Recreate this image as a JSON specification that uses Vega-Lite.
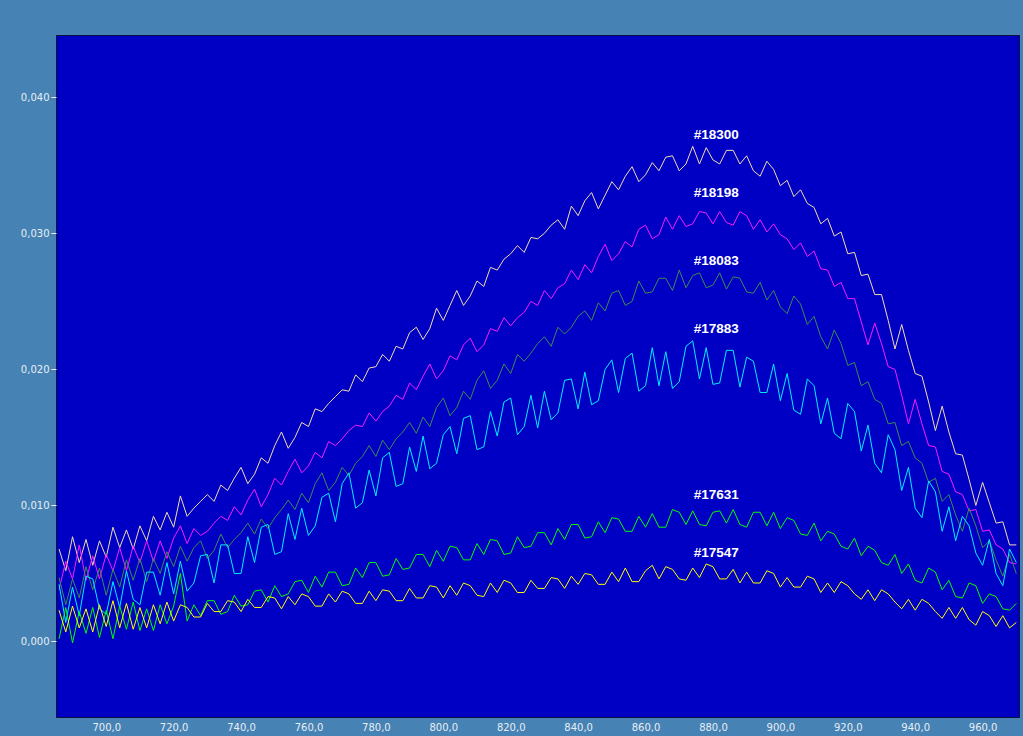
{
  "$schema": "https://vega.github.io/schema/vega-lite/v6.json",
  "width": 963,
  "height": 682,
  "autosize": {"type": "none"},
  "padding": {"left": 56, "top": 35, "right": 4, "bottom": 19},
  "background": "#4682B4",
  "config": {
    "view": {"fill": "#0000C4", "stroke": "#0A1040", "strokeWidth": 1},
    "axis": {"grid": false, "domain": false, "labelColor": "#E6EEF6", "labelFont": "DejaVu Sans", "labelFontSize": 10, "title": null, "tickColor": "#E6EEF6"}
  },
  "datasets": {
    "s18300": [
      {"x":686,"y":0.0068},{"x":688,"y":0.0052},{"x":690,"y":0.0077},{"x":692,"y":0.0058},{"x":694,"y":0.0075},{"x":696,"y":0.0056},{"x":698,"y":0.0074},{"x":700,"y":0.0062},{"x":702,"y":0.0084},{"x":704,"y":0.0069},{"x":706,"y":0.0082},{"x":708,"y":0.0068},{"x":710,"y":0.0085},{"x":712,"y":0.0074},{"x":714,"y":0.0092},{"x":716,"y":0.0082},{"x":718,"y":0.0095},{"x":720,"y":0.0084},{"x":722,"y":0.0107},{"x":724,"y":0.0092},{"x":726,"y":0.0098},{"x":728,"y":0.0103},{"x":730,"y":0.0108},{"x":732,"y":0.0103},{"x":734,"y":0.0115},{"x":736,"y":0.0111},{"x":738,"y":0.0120},{"x":740,"y":0.0128},{"x":742,"y":0.0116},{"x":744,"y":0.0123},{"x":746,"y":0.0135},{"x":748,"y":0.0131},{"x":750,"y":0.0144},{"x":752,"y":0.0154},{"x":754,"y":0.0142},{"x":756,"y":0.0150},{"x":758,"y":0.0161},{"x":760,"y":0.0158},{"x":762,"y":0.0171},{"x":764,"y":0.0169},{"x":766,"y":0.0175},{"x":768,"y":0.0180},{"x":770,"y":0.0185},{"x":772,"y":0.0184},{"x":774,"y":0.0196},{"x":776,"y":0.0191},{"x":778,"y":0.0201},{"x":780,"y":0.0202},{"x":782,"y":0.0211},{"x":784,"y":0.0206},{"x":786,"y":0.0217},{"x":788,"y":0.0215},{"x":790,"y":0.0227},{"x":792,"y":0.0231},{"x":794,"y":0.0222},{"x":796,"y":0.0230},{"x":798,"y":0.0245},{"x":800,"y":0.0236},{"x":802,"y":0.0247},{"x":804,"y":0.0258},{"x":806,"y":0.0247},{"x":808,"y":0.0254},{"x":810,"y":0.0265},{"x":812,"y":0.0261},{"x":814,"y":0.0275},{"x":816,"y":0.0273},{"x":818,"y":0.0281},{"x":820,"y":0.0285},{"x":822,"y":0.0291},{"x":824,"y":0.0286},{"x":826,"y":0.0297},{"x":828,"y":0.0296},{"x":830,"y":0.0300},{"x":832,"y":0.0306},{"x":834,"y":0.0310},{"x":836,"y":0.0303},{"x":838,"y":0.0320},{"x":840,"y":0.0313},{"x":842,"y":0.0324},{"x":844,"y":0.0330},{"x":846,"y":0.0318},{"x":848,"y":0.0328},{"x":850,"y":0.0338},{"x":852,"y":0.0332},{"x":854,"y":0.0342},{"x":856,"y":0.0349},{"x":858,"y":0.0338},{"x":860,"y":0.0343},{"x":862,"y":0.0352},{"x":864,"y":0.0346},{"x":866,"y":0.0356},{"x":868,"y":0.0357},{"x":870,"y":0.0346},{"x":872,"y":0.0351},{"x":874,"y":0.0364},{"x":876,"y":0.0351},{"x":878,"y":0.0363},{"x":880,"y":0.0354},{"x":882,"y":0.0351},{"x":884,"y":0.0361},{"x":886,"y":0.0361},{"x":888,"y":0.0351},{"x":890,"y":0.0357},{"x":892,"y":0.0346},{"x":894,"y":0.0342},{"x":896,"y":0.0353},{"x":898,"y":0.0347},{"x":900,"y":0.0335},{"x":902,"y":0.0339},{"x":904,"y":0.0327},{"x":906,"y":0.0332},{"x":908,"y":0.0322},{"x":910,"y":0.0319},{"x":912,"y":0.0307},{"x":914,"y":0.0311},{"x":916,"y":0.0298},{"x":918,"y":0.0301},{"x":920,"y":0.0285},{"x":922,"y":0.0286},{"x":924,"y":0.0269},{"x":926,"y":0.0270},{"x":928,"y":0.0255},{"x":930,"y":0.0255},{"x":932,"y":0.0236},{"x":934,"y":0.0215},{"x":936,"y":0.0233},{"x":938,"y":0.0214},{"x":940,"y":0.0197},{"x":942,"y":0.0195},{"x":944,"y":0.0176},{"x":946,"y":0.0155},{"x":948,"y":0.0173},{"x":950,"y":0.0154},{"x":952,"y":0.0138},{"x":954,"y":0.0137},{"x":956,"y":0.0119},{"x":958,"y":0.0100},{"x":960,"y":0.0117},{"x":962,"y":0.0102},{"x":964,"y":0.0087},{"x":966,"y":0.0088},{"x":968,"y":0.0071},{"x":970,"y":0.0071}
    ],
    "s18198": [
      {"x":686,"y":0.0038},{"x":688,"y":0.0059},{"x":690,"y":0.0046},{"x":692,"y":0.0071},{"x":694,"y":0.0045},{"x":696,"y":0.0063},{"x":698,"y":0.0046},{"x":700,"y":0.0064},{"x":702,"y":0.0052},{"x":704,"y":0.0069},{"x":706,"y":0.0052},{"x":708,"y":0.0070},{"x":710,"y":0.0058},{"x":712,"y":0.0074},{"x":714,"y":0.0059},{"x":716,"y":0.0074},{"x":718,"y":0.0061},{"x":720,"y":0.0076},{"x":722,"y":0.0085},{"x":724,"y":0.0072},{"x":726,"y":0.0083},{"x":728,"y":0.0078},{"x":730,"y":0.0081},{"x":732,"y":0.0087},{"x":734,"y":0.0092},{"x":736,"y":0.0089},{"x":738,"y":0.0099},{"x":740,"y":0.0093},{"x":742,"y":0.0104},{"x":744,"y":0.0112},{"x":746,"y":0.0099},{"x":748,"y":0.0108},{"x":750,"y":0.0120},{"x":752,"y":0.0115},{"x":754,"y":0.0125},{"x":756,"y":0.0134},{"x":758,"y":0.0124},{"x":760,"y":0.0129},{"x":762,"y":0.0139},{"x":764,"y":0.0135},{"x":766,"y":0.0147},{"x":768,"y":0.0144},{"x":770,"y":0.0149},{"x":772,"y":0.0155},{"x":774,"y":0.0159},{"x":776,"y":0.0158},{"x":778,"y":0.0168},{"x":780,"y":0.0162},{"x":782,"y":0.0169},{"x":784,"y":0.0173},{"x":786,"y":0.0181},{"x":788,"y":0.0178},{"x":790,"y":0.0190},{"x":792,"y":0.0185},{"x":794,"y":0.0195},{"x":796,"y":0.0204},{"x":798,"y":0.0193},{"x":800,"y":0.0199},{"x":802,"y":0.0210},{"x":804,"y":0.0207},{"x":806,"y":0.0218},{"x":808,"y":0.0223},{"x":810,"y":0.0213},{"x":812,"y":0.0218},{"x":814,"y":0.0230},{"x":816,"y":0.0228},{"x":818,"y":0.0238},{"x":820,"y":0.0232},{"x":822,"y":0.0238},{"x":824,"y":0.0242},{"x":826,"y":0.0250},{"x":828,"y":0.0247},{"x":830,"y":0.0258},{"x":832,"y":0.0252},{"x":834,"y":0.0260},{"x":836,"y":0.0263},{"x":838,"y":0.0273},{"x":840,"y":0.0266},{"x":842,"y":0.0277},{"x":844,"y":0.0271},{"x":846,"y":0.0283},{"x":848,"y":0.0292},{"x":850,"y":0.0280},{"x":852,"y":0.0285},{"x":854,"y":0.0294},{"x":856,"y":0.0290},{"x":858,"y":0.0303},{"x":860,"y":0.0306},{"x":862,"y":0.0296},{"x":864,"y":0.0299},{"x":866,"y":0.0312},{"x":868,"y":0.0303},{"x":870,"y":0.0313},{"x":872,"y":0.0305},{"x":874,"y":0.0307},{"x":876,"y":0.0316},{"x":878,"y":0.0315},{"x":880,"y":0.0307},{"x":882,"y":0.0316},{"x":884,"y":0.0308},{"x":886,"y":0.0306},{"x":888,"y":0.0316},{"x":890,"y":0.0313},{"x":892,"y":0.0303},{"x":894,"y":0.0310},{"x":896,"y":0.0301},{"x":898,"y":0.0307},{"x":900,"y":0.0299},{"x":902,"y":0.0296},{"x":904,"y":0.0288},{"x":906,"y":0.0293},{"x":908,"y":0.0283},{"x":910,"y":0.0287},{"x":912,"y":0.0274},{"x":914,"y":0.0273},{"x":916,"y":0.0261},{"x":918,"y":0.0264},{"x":920,"y":0.0252},{"x":922,"y":0.0252},{"x":924,"y":0.0235},{"x":926,"y":0.0218},{"x":928,"y":0.0234},{"x":930,"y":0.0219},{"x":932,"y":0.0202},{"x":934,"y":0.0200},{"x":936,"y":0.0181},{"x":938,"y":0.0160},{"x":940,"y":0.0178},{"x":942,"y":0.0160},{"x":944,"y":0.0144},{"x":946,"y":0.0143},{"x":948,"y":0.0125},{"x":950,"y":0.0123},{"x":952,"y":0.0110},{"x":954,"y":0.0108},{"x":956,"y":0.0096},{"x":958,"y":0.0097},{"x":960,"y":0.0081},{"x":962,"y":0.0082},{"x":964,"y":0.0071},{"x":966,"y":0.0068},{"x":968,"y":0.0058},{"x":970,"y":0.0057}
    ],
    "s18083": [
      {"x":686,"y":0.0047},{"x":688,"y":0.0027},{"x":690,"y":0.0046},{"x":692,"y":0.0032},{"x":694,"y":0.0055},{"x":696,"y":0.0038},{"x":698,"y":0.0054},{"x":700,"y":0.0034},{"x":702,"y":0.0053},{"x":704,"y":0.0040},{"x":706,"y":0.0060},{"x":708,"y":0.0045},{"x":710,"y":0.0061},{"x":712,"y":0.0044},{"x":714,"y":0.0061},{"x":716,"y":0.0050},{"x":718,"y":0.0066},{"x":720,"y":0.0055},{"x":722,"y":0.0070},{"x":724,"y":0.0059},{"x":726,"y":0.0069},{"x":728,"y":0.0074},{"x":730,"y":0.0061},{"x":732,"y":0.0067},{"x":734,"y":0.0079},{"x":736,"y":0.0069},{"x":738,"y":0.0075},{"x":740,"y":0.0080},{"x":742,"y":0.0087},{"x":744,"y":0.0079},{"x":746,"y":0.0090},{"x":748,"y":0.0083},{"x":750,"y":0.0091},{"x":752,"y":0.0097},{"x":754,"y":0.0104},{"x":756,"y":0.0097},{"x":758,"y":0.0109},{"x":760,"y":0.0102},{"x":762,"y":0.0116},{"x":764,"y":0.0124},{"x":766,"y":0.0111},{"x":768,"y":0.0117},{"x":770,"y":0.0128},{"x":772,"y":0.0122},{"x":774,"y":0.0131},{"x":776,"y":0.0136},{"x":778,"y":0.0144},{"x":780,"y":0.0136},{"x":782,"y":0.0148},{"x":784,"y":0.0141},{"x":786,"y":0.0149},{"x":788,"y":0.0154},{"x":790,"y":0.0161},{"x":792,"y":0.0153},{"x":794,"y":0.0165},{"x":796,"y":0.0158},{"x":798,"y":0.0172},{"x":800,"y":0.0179},{"x":802,"y":0.0166},{"x":804,"y":0.0172},{"x":806,"y":0.0184},{"x":808,"y":0.0178},{"x":810,"y":0.0192},{"x":812,"y":0.0199},{"x":814,"y":0.0186},{"x":816,"y":0.0192},{"x":818,"y":0.0204},{"x":820,"y":0.0197},{"x":822,"y":0.0211},{"x":824,"y":0.0206},{"x":826,"y":0.0212},{"x":828,"y":0.0219},{"x":830,"y":0.0224},{"x":832,"y":0.0217},{"x":834,"y":0.0231},{"x":836,"y":0.0226},{"x":838,"y":0.0231},{"x":840,"y":0.0239},{"x":842,"y":0.0243},{"x":844,"y":0.0236},{"x":846,"y":0.0249},{"x":848,"y":0.0243},{"x":850,"y":0.0256},{"x":852,"y":0.0258},{"x":854,"y":0.0247},{"x":856,"y":0.0250},{"x":858,"y":0.0265},{"x":860,"y":0.0256},{"x":862,"y":0.0257},{"x":864,"y":0.0267},{"x":866,"y":0.0267},{"x":868,"y":0.0258},{"x":870,"y":0.0273},{"x":872,"y":0.0260},{"x":874,"y":0.0269},{"x":876,"y":0.0271},{"x":878,"y":0.0260},{"x":880,"y":0.0262},{"x":882,"y":0.0271},{"x":884,"y":0.0259},{"x":886,"y":0.0268},{"x":888,"y":0.0267},{"x":890,"y":0.0257},{"x":892,"y":0.0256},{"x":894,"y":0.0264},{"x":896,"y":0.0251},{"x":898,"y":0.0258},{"x":900,"y":0.0246},{"x":902,"y":0.0241},{"x":904,"y":0.0254},{"x":906,"y":0.0248},{"x":908,"y":0.0233},{"x":910,"y":0.0239},{"x":912,"y":0.0224},{"x":914,"y":0.0215},{"x":916,"y":0.0229},{"x":918,"y":0.0219},{"x":920,"y":0.0203},{"x":922,"y":0.0205},{"x":924,"y":0.0188},{"x":926,"y":0.0191},{"x":928,"y":0.0178},{"x":930,"y":0.0175},{"x":932,"y":0.0160},{"x":934,"y":0.0161},{"x":936,"y":0.0144},{"x":938,"y":0.0147},{"x":940,"y":0.0135},{"x":942,"y":0.0131},{"x":944,"y":0.0117},{"x":946,"y":0.0120},{"x":948,"y":0.0103},{"x":950,"y":0.0108},{"x":952,"y":0.0093},{"x":954,"y":0.0081},{"x":956,"y":0.0098},{"x":958,"y":0.0085},{"x":960,"y":0.0069},{"x":962,"y":0.0074},{"x":964,"y":0.0060},{"x":966,"y":0.0048},{"x":968,"y":0.0064},{"x":970,"y":0.0050}
    ],
    "s17883": [
      {"x":686,"y":0.0042},{"x":688,"y":0.0014},{"x":690,"y":0.0040},{"x":692,"y":0.0019},{"x":694,"y":0.0048},{"x":696,"y":0.0046},{"x":698,"y":0.0024},{"x":700,"y":0.0020},{"x":702,"y":0.0044},{"x":704,"y":0.0025},{"x":706,"y":0.0052},{"x":708,"y":0.0031},{"x":710,"y":0.0027},{"x":712,"y":0.0051},{"x":714,"y":0.0051},{"x":716,"y":0.0034},{"x":718,"y":0.0058},{"x":720,"y":0.0035},{"x":722,"y":0.0059},{"x":724,"y":0.0037},{"x":726,"y":0.0043},{"x":728,"y":0.0063},{"x":730,"y":0.0064},{"x":732,"y":0.0043},{"x":734,"y":0.0071},{"x":736,"y":0.0071},{"x":738,"y":0.0050},{"x":740,"y":0.0050},{"x":742,"y":0.0077},{"x":744,"y":0.0058},{"x":746,"y":0.0084},{"x":748,"y":0.0086},{"x":750,"y":0.0064},{"x":752,"y":0.0066},{"x":754,"y":0.0094},{"x":756,"y":0.0075},{"x":758,"y":0.0098},{"x":760,"y":0.0078},{"x":762,"y":0.0085},{"x":764,"y":0.0106},{"x":766,"y":0.0109},{"x":768,"y":0.0088},{"x":770,"y":0.0116},{"x":772,"y":0.0124},{"x":774,"y":0.0098},{"x":776,"y":0.0102},{"x":778,"y":0.0126},{"x":780,"y":0.0107},{"x":782,"y":0.0135},{"x":784,"y":0.0139},{"x":786,"y":0.0114},{"x":788,"y":0.0116},{"x":790,"y":0.0143},{"x":792,"y":0.0125},{"x":794,"y":0.0151},{"x":796,"y":0.0127},{"x":798,"y":0.0131},{"x":800,"y":0.0152},{"x":802,"y":0.0158},{"x":804,"y":0.0138},{"x":806,"y":0.0164},{"x":808,"y":0.0166},{"x":810,"y":0.0141},{"x":812,"y":0.0143},{"x":814,"y":0.0169},{"x":816,"y":0.0151},{"x":818,"y":0.0176},{"x":820,"y":0.0179},{"x":822,"y":0.0152},{"x":824,"y":0.0158},{"x":826,"y":0.0181},{"x":828,"y":0.0157},{"x":830,"y":0.0184},{"x":832,"y":0.0163},{"x":834,"y":0.0168},{"x":836,"y":0.0192},{"x":838,"y":0.0193},{"x":840,"y":0.0171},{"x":842,"y":0.0198},{"x":844,"y":0.0174},{"x":846,"y":0.0177},{"x":848,"y":0.0200},{"x":850,"y":0.0207},{"x":852,"y":0.0183},{"x":854,"y":0.0208},{"x":856,"y":0.0212},{"x":858,"y":0.0184},{"x":860,"y":0.0188},{"x":862,"y":0.0216},{"x":864,"y":0.0188},{"x":866,"y":0.0213},{"x":868,"y":0.0186},{"x":870,"y":0.0191},{"x":872,"y":0.0217},{"x":874,"y":0.0221},{"x":876,"y":0.0193},{"x":878,"y":0.0216},{"x":880,"y":0.0189},{"x":882,"y":0.0190},{"x":884,"y":0.0214},{"x":886,"y":0.0214},{"x":888,"y":0.0187},{"x":890,"y":0.0209},{"x":892,"y":0.0206},{"x":894,"y":0.0183},{"x":896,"y":0.0183},{"x":898,"y":0.0204},{"x":900,"y":0.0177},{"x":902,"y":0.0197},{"x":904,"y":0.0170},{"x":906,"y":0.0167},{"x":908,"y":0.0193},{"x":910,"y":0.0188},{"x":912,"y":0.0160},{"x":914,"y":0.0179},{"x":916,"y":0.0153},{"x":918,"y":0.0149},{"x":920,"y":0.0175},{"x":922,"y":0.0169},{"x":924,"y":0.0140},{"x":926,"y":0.0159},{"x":928,"y":0.0131},{"x":930,"y":0.0124},{"x":932,"y":0.0152},{"x":934,"y":0.0141},{"x":936,"y":0.0111},{"x":938,"y":0.0128},{"x":940,"y":0.0098},{"x":942,"y":0.0091},{"x":944,"y":0.0118},{"x":946,"y":0.0110},{"x":948,"y":0.0081},{"x":950,"y":0.0099},{"x":952,"y":0.0074},{"x":954,"y":0.0092},{"x":956,"y":0.0085},{"x":958,"y":0.0065},{"x":960,"y":0.0056},{"x":962,"y":0.0075},{"x":964,"y":0.0050},{"x":966,"y":0.0041},{"x":968,"y":0.0068},{"x":970,"y":0.0058}
    ],
    "s17631": [
      {"x":686,"y":0.0002},{"x":688,"y":0.0025},{"x":690,"y":-0.0001},{"x":692,"y":0.0022},{"x":694,"y":0.0006},{"x":696,"y":0.0025},{"x":698,"y":0.0003},{"x":700,"y":0.0023},{"x":702,"y":0.0002},{"x":704,"y":0.0026},{"x":706,"y":0.0009},{"x":708,"y":0.0029},{"x":710,"y":0.0008},{"x":712,"y":0.0024},{"x":714,"y":0.0008},{"x":716,"y":0.0027},{"x":718,"y":0.0013},{"x":720,"y":0.0026},{"x":722,"y":0.0050},{"x":724,"y":0.0015},{"x":726,"y":0.0027},{"x":728,"y":0.0019},{"x":730,"y":0.0030},{"x":732,"y":0.0030},{"x":734,"y":0.0020},{"x":736,"y":0.0022},{"x":738,"y":0.0034},{"x":740,"y":0.0026},{"x":742,"y":0.0027},{"x":744,"y":0.0037},{"x":746,"y":0.0038},{"x":748,"y":0.0029},{"x":750,"y":0.0041},{"x":752,"y":0.0033},{"x":754,"y":0.0035},{"x":756,"y":0.0044},{"x":758,"y":0.0045},{"x":760,"y":0.0036},{"x":762,"y":0.0048},{"x":764,"y":0.0040},{"x":766,"y":0.0051},{"x":768,"y":0.0051},{"x":770,"y":0.0041},{"x":772,"y":0.0042},{"x":774,"y":0.0054},{"x":776,"y":0.0047},{"x":778,"y":0.0058},{"x":780,"y":0.0058},{"x":782,"y":0.0048},{"x":784,"y":0.0049},{"x":786,"y":0.0061},{"x":788,"y":0.0053},{"x":790,"y":0.0054},{"x":792,"y":0.0064},{"x":794,"y":0.0064},{"x":796,"y":0.0055},{"x":798,"y":0.0067},{"x":800,"y":0.0059},{"x":802,"y":0.0070},{"x":804,"y":0.0069},{"x":806,"y":0.0060},{"x":808,"y":0.0060},{"x":810,"y":0.0072},{"x":812,"y":0.0064},{"x":814,"y":0.0075},{"x":816,"y":0.0074},{"x":818,"y":0.0064},{"x":820,"y":0.0065},{"x":822,"y":0.0077},{"x":824,"y":0.0069},{"x":826,"y":0.0070},{"x":828,"y":0.0080},{"x":830,"y":0.0080},{"x":832,"y":0.0071},{"x":834,"y":0.0083},{"x":836,"y":0.0075},{"x":838,"y":0.0086},{"x":840,"y":0.0086},{"x":842,"y":0.0076},{"x":844,"y":0.0077},{"x":846,"y":0.0088},{"x":848,"y":0.0080},{"x":850,"y":0.0091},{"x":852,"y":0.0090},{"x":854,"y":0.0081},{"x":856,"y":0.0081},{"x":858,"y":0.0092},{"x":860,"y":0.0084},{"x":862,"y":0.0094},{"x":864,"y":0.0084},{"x":866,"y":0.0084},{"x":868,"y":0.0097},{"x":870,"y":0.0095},{"x":872,"y":0.0086},{"x":874,"y":0.0096},{"x":876,"y":0.0086},{"x":878,"y":0.0085},{"x":880,"y":0.0095},{"x":882,"y":0.0096},{"x":884,"y":0.0087},{"x":886,"y":0.0097},{"x":888,"y":0.0086},{"x":890,"y":0.0084},{"x":892,"y":0.0095},{"x":894,"y":0.0095},{"x":896,"y":0.0085},{"x":898,"y":0.0095},{"x":900,"y":0.0083},{"x":902,"y":0.0091},{"x":904,"y":0.0089},{"x":906,"y":0.0079},{"x":908,"y":0.0078},{"x":910,"y":0.0087},{"x":912,"y":0.0074},{"x":914,"y":0.0081},{"x":916,"y":0.0079},{"x":918,"y":0.0070},{"x":920,"y":0.0068},{"x":922,"y":0.0076},{"x":924,"y":0.0063},{"x":926,"y":0.0070},{"x":928,"y":0.0067},{"x":930,"y":0.0058},{"x":932,"y":0.0056},{"x":934,"y":0.0064},{"x":936,"y":0.0050},{"x":938,"y":0.0057},{"x":940,"y":0.0045},{"x":942,"y":0.0043},{"x":944,"y":0.0054},{"x":946,"y":0.0051},{"x":948,"y":0.0038},{"x":950,"y":0.0045},{"x":952,"y":0.0033},{"x":954,"y":0.0032},{"x":956,"y":0.0043},{"x":958,"y":0.0041},{"x":960,"y":0.0028},{"x":962,"y":0.0035},{"x":964,"y":0.0033},{"x":966,"y":0.0024},{"x":968,"y":0.0023},{"x":970,"y":0.0028}
    ],
    "s17547": [
      {"x":686,"y":0.0023},{"x":688,"y":0.0007},{"x":690,"y":0.0026},{"x":692,"y":0.0010},{"x":694,"y":0.0024},{"x":696,"y":0.0007},{"x":698,"y":0.0027},{"x":700,"y":0.0011},{"x":702,"y":0.0030},{"x":704,"y":0.0010},{"x":706,"y":0.0028},{"x":708,"y":0.0009},{"x":710,"y":0.0025},{"x":712,"y":0.0010},{"x":714,"y":0.0027},{"x":716,"y":0.0013},{"x":718,"y":0.0029},{"x":720,"y":0.0015},{"x":722,"y":0.0027},{"x":724,"y":0.0025},{"x":726,"y":0.0018},{"x":728,"y":0.0018},{"x":730,"y":0.0028},{"x":732,"y":0.0022},{"x":734,"y":0.0022},{"x":736,"y":0.0030},{"x":738,"y":0.0029},{"x":740,"y":0.0022},{"x":742,"y":0.0031},{"x":744,"y":0.0025},{"x":746,"y":0.0025},{"x":748,"y":0.0033},{"x":750,"y":0.0032},{"x":752,"y":0.0024},{"x":754,"y":0.0033},{"x":756,"y":0.0027},{"x":758,"y":0.0035},{"x":760,"y":0.0033},{"x":762,"y":0.0026},{"x":764,"y":0.0026},{"x":766,"y":0.0035},{"x":768,"y":0.0029},{"x":770,"y":0.0037},{"x":772,"y":0.0035},{"x":774,"y":0.0028},{"x":776,"y":0.0028},{"x":778,"y":0.0037},{"x":780,"y":0.0030},{"x":782,"y":0.0038},{"x":784,"y":0.0037},{"x":786,"y":0.0030},{"x":788,"y":0.0030},{"x":790,"y":0.0039},{"x":792,"y":0.0032},{"x":794,"y":0.0032},{"x":796,"y":0.0041},{"x":798,"y":0.0040},{"x":800,"y":0.0032},{"x":802,"y":0.0041},{"x":804,"y":0.0034},{"x":806,"y":0.0043},{"x":808,"y":0.0041},{"x":810,"y":0.0034},{"x":812,"y":0.0033},{"x":814,"y":0.0043},{"x":816,"y":0.0036},{"x":818,"y":0.0045},{"x":820,"y":0.0043},{"x":822,"y":0.0036},{"x":824,"y":0.0036},{"x":826,"y":0.0045},{"x":828,"y":0.0039},{"x":830,"y":0.0039},{"x":832,"y":0.0047},{"x":834,"y":0.0046},{"x":836,"y":0.0039},{"x":838,"y":0.0048},{"x":840,"y":0.0042},{"x":842,"y":0.0050},{"x":844,"y":0.0049},{"x":846,"y":0.0042},{"x":848,"y":0.0042},{"x":850,"y":0.0051},{"x":852,"y":0.0044},{"x":854,"y":0.0054},{"x":856,"y":0.0044},{"x":858,"y":0.0044},{"x":860,"y":0.0052},{"x":862,"y":0.0056},{"x":864,"y":0.0046},{"x":866,"y":0.0055},{"x":868,"y":0.0053},{"x":870,"y":0.0046},{"x":872,"y":0.0045},{"x":874,"y":0.0054},{"x":876,"y":0.0047},{"x":878,"y":0.0057},{"x":880,"y":0.0055},{"x":882,"y":0.0046},{"x":884,"y":0.0046},{"x":886,"y":0.0053},{"x":888,"y":0.0043},{"x":890,"y":0.0051},{"x":892,"y":0.0043},{"x":894,"y":0.0043},{"x":896,"y":0.0052},{"x":898,"y":0.0050},{"x":900,"y":0.0040},{"x":902,"y":0.0047},{"x":904,"y":0.0040},{"x":906,"y":0.0040},{"x":908,"y":0.0048},{"x":910,"y":0.0046},{"x":912,"y":0.0036},{"x":914,"y":0.0043},{"x":916,"y":0.0036},{"x":918,"y":0.0044},{"x":920,"y":0.0041},{"x":922,"y":0.0035},{"x":924,"y":0.0031},{"x":926,"y":0.0038},{"x":928,"y":0.0030},{"x":930,"y":0.0038},{"x":932,"y":0.0035},{"x":934,"y":0.0029},{"x":936,"y":0.0024},{"x":938,"y":0.0031},{"x":940,"y":0.0023},{"x":942,"y":0.0031},{"x":944,"y":0.0028},{"x":946,"y":0.0022},{"x":948,"y":0.0017},{"x":950,"y":0.0025},{"x":952,"y":0.0017},{"x":954,"y":0.0025},{"x":956,"y":0.0016},{"x":958,"y":0.0012},{"x":960,"y":0.0022},{"x":962,"y":0.0019},{"x":964,"y":0.0011},{"x":966,"y":0.0019},{"x":968,"y":0.0010},{"x":970,"y":0.0014}
    ],
    "labels": [
      {"x":881,"y":0.0372,"label":"#18300"},
      {"x":881,"y":0.0330,"label":"#18198"},
      {"x":881,"y":0.0280,"label":"#18083"},
      {"x":881,"y":0.0230,"label":"#17883"},
      {"x":881,"y":0.0108,"label":"#17631"},
      {"x":881,"y":0.0065,"label":"#17547"}
    ]
  },
  "encoding": {
    "x": {"field": "x", "type": "quantitative", "scale": {"domain": [685.1, 970.8], "nice": false, "zero": false},
      "axis": {"values": [700,720,740,760,780,800,820,840,860,880,900,920,940,960], "ticks": false, "labelPadding": 5, "labelExpr": "replace(format(datum.value, '.1f'), '.', ',')"}},
    "y": {"field": "y", "type": "quantitative", "scale": {"domain": [-0.00555, 0.04458], "nice": false, "zero": false},
      "axis": {"values": [0, 0.01, 0.02, 0.03, 0.04], "ticks": true, "tickSize": 5, "labelPadding": 2, "labelExpr": "replace(format(datum.value, '.3f'), '.', ',')"}}
  },
  "layer": [
    {"data": {"name": "s18300"}, "mark": {"type": "line", "color": "#F3DCB2", "strokeWidth": 1, "clip": true}},
    {"data": {"name": "s18198"}, "mark": {"type": "line", "color": "#FF1AFF", "strokeWidth": 1, "clip": true}},
    {"data": {"name": "s18083"}, "mark": {"type": "line", "color": "#3F8A52", "strokeWidth": 1, "clip": true}},
    {"data": {"name": "s17883"}, "mark": {"type": "line", "color": "#00F0FF", "strokeWidth": 1, "clip": true}},
    {"data": {"name": "s17631"}, "mark": {"type": "line", "color": "#00FF00", "strokeWidth": 1, "clip": true}},
    {"data": {"name": "s17547"}, "mark": {"type": "line", "color": "#FFFF00", "strokeWidth": 1, "clip": true}},
    {"data": {"name": "labels"}, "mark": {"type": "text", "color": "#FFFFFF", "font": "Liberation Sans", "fontWeight": "bold", "fontSize": 13.5, "align": "center", "baseline": "middle"},
      "encoding": {"text": {"field": "label"}}}
  ]
}
